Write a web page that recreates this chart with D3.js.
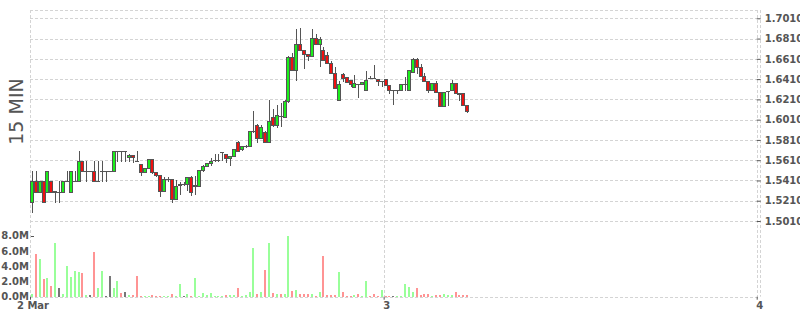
<!DOCTYPE html>
<html>
<head>
<meta charset="utf-8">
<script src="https://cdn.jsdelivr.net/npm/d3@7"></script>
<style>
  html, body { margin: 0; padding: 0; background: #fff; }
  svg { display: block; }
  .axis text { font-family: "DejaVu Sans", Verdana, sans-serif; font-size: 10px; font-weight: bold; fill: #555; }
  .axis line { stroke: #555; }
  .grid line { stroke: #d4d4d4; stroke-dasharray: 3,2; }
</style>
</head>
<body>
<svg id="chart" width="800" height="315"></svg>
<script>
// first 15 min period, then one value per period
const startTime = new Date(2015, 2, 2, 1, 15);
const periodMinutes = 15;

const opens = [
  1.52, 1.54, 1.53, 1.54, 1.53, 1.54, 1.530, 1.53, 1.53, 1.54,
  1.53, 1.54, 1.54, 1.56, 1.55, 1.55, 1.55, 1.54, 1.55, 1.55,
  1.55, 1.55, 1.57, 1.57, 1.57, 1.564, 1.566, 1.5602, 1.557, 1.549,
  1.553, 1.562, 1.549, 1.546, 1.531, 1.542, 1.542, 1.523, 1.537, 1.538,
  1.538, 1.544, 1.536, 1.536, 1.551, 1.555, 1.558, 1.561, 1.561, 1.569,
  1.567, 1.563, 1.565, 1.579, 1.572, 1.575, 1.575, 1.5895, 1.596, 1.583,
  1.589, 1.579, 1.604, 1.596, 1.605, 1.604, 1.619, 1.663, 1.650, 1.676,
  1.670, 1.666, 1.664, 1.682, 1.676, 1.670, 1.665, 1.657, 1.647, 1.620,
  1.646, 1.643, 1.640, 1.633, 1.6362, 1.636, 1.630, 1.6422, 1.6422, 1.641,
  1.639, 1.641, 1.635, 1.630, 1.630, 1.630, 1.636, 1.630, 1.648, 1.661,
  1.653, 1.644, 1.639, 1.630, 1.637, 1.628, 1.614, 1.629, 1.630, 1.637,
  1.627, 1.627, 1.615
];
const highs = [
  1.55, 1.55, 1.54, 1.54, 1.55, 1.54, 1.530, 1.54, 1.54, 1.55,
  1.55, 1.55, 1.57, 1.56, 1.56, 1.55, 1.56, 1.56, 1.56, 1.55,
  1.55, 1.57, 1.57, 1.57, 1.57, 1.567, 1.566, 1.57, 1.557, 1.553,
  1.562, 1.562, 1.549, 1.546, 1.544, 1.544, 1.542, 1.541, 1.539, 1.539,
  1.544, 1.545, 1.545, 1.551, 1.556, 1.558, 1.563, 1.567, 1.567, 1.5692,
  1.567, 1.565, 1.572, 1.580, 1.575, 1.576, 1.590, 1.610, 1.597, 1.596,
  1.590, 1.620, 1.612, 1.615, 1.617, 1.620, 1.664, 1.667, 1.690, 1.691,
  1.670, 1.666, 1.690, 1.686, 1.683, 1.673, 1.668, 1.659, 1.653, 1.639,
  1.647, 1.643, 1.640, 1.645, 1.6362, 1.638, 1.649, 1.644, 1.655, 1.641,
  1.6392, 1.641, 1.635, 1.630, 1.6302, 1.636, 1.643, 1.650, 1.662, 1.662,
  1.656, 1.647, 1.639, 1.637, 1.639, 1.628, 1.628, 1.6292, 1.640, 1.637,
  1.627, 1.627, 1.615
];
const lows = [
  1.51, 1.53, 1.53, 1.52, 1.53, 1.53, 1.52, 1.52, 1.53, 1.54,
  1.53, 1.54, 1.54, 1.55, 1.54, 1.55, 1.54, 1.54, 1.54, 1.54,
  1.55, 1.55, 1.56, 1.56, 1.56, 1.56, 1.559, 1.56, 1.546, 1.549,
  1.553, 1.548, 1.545, 1.526, 1.531, 1.540, 1.520, 1.523, 1.528, 1.537,
  1.532, 1.527, 1.528, 1.536, 1.550, 1.555, 1.556, 1.560, 1.560, 1.561,
  1.559, 1.556, 1.565, 1.570, 1.571, 1.574, 1.575, 1.589, 1.579, 1.583,
  1.579, 1.579, 1.595, 1.594, 1.595, 1.604, 1.618, 1.650, 1.640, 1.670,
  1.652, 1.660, 1.664, 1.676, 1.654, 1.660, 1.657, 1.647, 1.632, 1.620,
  1.639, 1.638, 1.634, 1.633, 1.623, 1.636, 1.630, 1.642, 1.642, 1.635,
  1.634, 1.635, 1.627, 1.616, 1.627, 1.630, 1.630, 1.630, 1.648, 1.647,
  1.644, 1.639, 1.628, 1.630, 1.628, 1.614, 1.614, 1.615, 1.630, 1.627,
  1.620, 1.615, 1.609
];
const closes = [
  1.54, 1.53, 1.54, 1.52, 1.55, 1.53, 1.5302, 1.53, 1.54, 1.5402,
  1.55, 1.5402, 1.56, 1.55, 1.5502, 1.55, 1.54, 1.5402, 1.5502, 1.55,
  1.55, 1.57, 1.5702, 1.5698, 1.57, 1.566, 1.564, 1.56, 1.549, 1.553,
  1.562, 1.549, 1.546, 1.531, 1.542, 1.5422, 1.523, 1.536, 1.5372, 1.538,
  1.544, 1.530, 1.5365, 1.551, 1.555, 1.558, 1.560, 1.5612, 1.5612, 1.5692,
  1.563, 1.565, 1.572, 1.570, 1.575, 1.5752, 1.590, 1.590, 1.583, 1.594,
  1.579, 1.600, 1.596, 1.606, 1.6048, 1.619, 1.663, 1.650, 1.676, 1.670,
  1.666, 1.664, 1.682, 1.676, 1.681, 1.660, 1.657, 1.647, 1.632, 1.636,
  1.642, 1.638, 1.636, 1.637, 1.636, 1.638, 1.640, 1.642, 1.642, 1.639,
  1.6392, 1.635, 1.630, 1.630, 1.6302, 1.636, 1.6362, 1.650, 1.661, 1.653,
  1.644, 1.639, 1.630, 1.637, 1.628, 1.614, 1.628, 1.6292, 1.637, 1.627,
  1.6268, 1.615, 1.610
];
// volume in millions
const volumes = [
  0.3, 5.6, 5.0, 2.3, 2.4, 1.4, 7.1, 1.1, 0.35, 4.0,
  2.6, 3.35, 3.2, 3.1, 0.25, 0.2, 5.9, 1.2, 3.4, 0.1,
  2.7, 1.2, 2.05, 0.5, 0.6, 0.2, 0.2, 2.7, 0.1, 0.1,
  0.15, 0.2, 0.1, 0.15, 0.1, 0.1, 0.4, 0.1, 1.65, 0.1,
  0.35, 0.1, 2.4, 0.1, 0.45, 0.2, 0.45, 0.1, 0.15, 0.15,
  0.2, 0.2, 0.2, 1.1, 0.1, 0.2, 0.6, 6.35, 0.3, 0.6,
  3.5, 7.1, 0.5, 0.35, 0.35, 0.35, 8.0, 0.75, 0.88, 0.3,
  0.3, 0.3, 0.3, 0.1, 0.6, 5.35, 0.2, 0.2, 0.2, 3.25,
  0.6, 0.1, 0.1, 0.2, 0.4, 0.1, 2.0, 0.1, 0.3, 0.1,
  0.9, 0.1, 0.1, 0.05, 0.05, 0.05, 1.65, 1.3, 0.6, 1.2,
  0.2, 0.35, 0.35, 0.1, 0.25, 0.25, 0.3, 0.2, 0.2, 0.6,
  0.2, 0.2, 0.2
];

const priceTicks = [1.501, 1.521, 1.541, 1.561, 1.581, 1.601, 1.621, 1.641, 1.661, 1.681, 1.701];
const volumeTicks = [0, 2, 4, 6, 8];
const dayTicks = [new Date(2015, 2, 2, 1, 15), new Date(2015, 2, 3), new Date(2015, 2, 4)];
const dayLabels = ['2 Mar', '3', '4'];
const panelLabel = '15 MIN';

const upFill = '#1bef1b', downFill = '#ef1111', candleStroke = '#555';
const volUp = '#99ff99', volDown = '#ff9494', volFlat = '#777';

const periodMs = periodMinutes * 60000;
const candles = opens.map((o, i) => ({
  t: new Date(+startTime + (i + 0.5) * periodMs),
  o, h: highs[i], l: lows[i], c: closes[i], v: volumes[i]
}));

const svg = d3.select('#chart');
const plotLeft = 30, plotRight = 756.7, plotTop = 10;

const x = d3.scaleTime().domain([startTime, new Date(2015, 2, 4)]).range([plotLeft, plotRight]);
const yPrice = d3.scaleLinear().domain([1.501, 1.701]).range([221, 18.3]);
const yVol = d3.scaleLinear().domain([0, 8]).range([296.7, 235.7]);

// pixel snapping helpers
const px = v => Math.round(v);
const half = v => Math.round(v) + 0.5;

// grid
const grid = svg.append('g').attr('class', 'grid');
grid.selectAll('line.h').data(priceTicks).join('line').attr('class', 'h')
  .attr('x1', plotLeft).attr('x2', plotRight)
  .attr('y1', d => half(yPrice(d))).attr('y2', d => half(yPrice(d)));
grid.append('line').attr('x1', plotLeft).attr('x2', plotRight + 3.3).attr('y1', plotTop + 0.5).attr('y2', plotTop + 0.5);
grid.append('line').attr('x1', plotLeft).attr('x2', plotRight + 3.3).attr('y1', half(yVol(0))).attr('y2', half(yVol(0)));
grid.selectAll('line.v').data(dayTicks).join('line').attr('class', 'v')
  .attr('x1', d => half(x(d))).attr('x2', d => half(x(d)))
  .attr('y1', plotTop).attr('y2', yVol(0));
grid.append('line').attr('x1', half(plotRight + 3)).attr('x2', half(plotRight + 3)).attr('y1', plotTop).attr('y2', yVol(0));

// volume bars
svg.append('g').selectAll('rect').data(candles).join('rect')
  .attr('x', d => px(x(d.t)) - 1)
  .attr('width', 2)
  .attr('y', d => px(yVol(d.v)))
  .attr('height', d => Math.max(px(yVol(0)) - px(yVol(d.v)), 1))
  .attr('fill', d => d.c > d.o ? volUp : d.c < d.o ? volDown : volFlat);

// candles
const cg = svg.append('g');
cg.selectAll('line').data(candles).join('line')
  .attr('x1', d => px(x(d.t)) + 0.5).attr('x2', d => px(x(d.t)) + 0.5)
  .attr('y1', d => px(yPrice(d.h))).attr('y2', d => px(yPrice(d.l)) + 1)
  .attr('stroke', candleStroke).attr('stroke-width', 1);
cg.selectAll('rect').data(candles).join('rect')
  .attr('x', d => px(x(d.t)) - 1.5)
  .attr('width', 3)
  .attr('y', d => half(yPrice(Math.max(d.o, d.c))))
  .attr('height', d => Math.max(px(yPrice(Math.min(d.o, d.c))) - px(yPrice(Math.max(d.o, d.c))), 0.01))
  .attr('fill', d => d.c >= d.o ? upFill : downFill)
  .attr('stroke', candleStroke).attr('stroke-width', 1);

// price axis (right)
const pa = svg.append('g').attr('class', 'axis')
  .attr('transform', `translate(${plotRight},0)`)
  .call(d3.axisRight(yPrice).tickValues(priceTicks).tickFormat(d3.format('.4f')).tickSize(4).tickPadding(4));
pa.select('.domain').remove();

// volume axis (left)
const va = svg.append('g').attr('class', 'axis')
  .attr('transform', `translate(${plotLeft + 4},0)`)
  .call(d3.axisLeft(yVol).tickValues(volumeTicks).tickFormat(d => d.toFixed(1) + 'M').tickSizeInner(0).tickSizeOuter(3).tickPadding(5));
va.select('.domain').attr('stroke', 'none');
va.append('line').attr('x1', -3).attr('x2', 0).attr('y1', half(yVol(8))).attr('y2', half(yVol(8)));

// time axis
const xa = svg.append('g').attr('class', 'axis')
  .attr('transform', `translate(0,${yVol(0)})`)
  .call(d3.axisBottom(x).tickValues(dayTicks).tickFormat((d, i) => dayLabels[i]).tickSize(3).tickPadding(2));
xa.select('.domain').remove();
xa.selectAll('text').attr('dx', 2.5);

// panel label
svg.append('text')
  .attr('transform', 'translate(23,111.5) rotate(-90)')
  .attr('text-anchor', 'middle')
  .attr('font-family', '"DejaVu Sans", Verdana, sans-serif')
  .attr('font-size', 19)
  .attr('fill', '#555')
  .text(panelLabel);
</script>
</body>
</html>
